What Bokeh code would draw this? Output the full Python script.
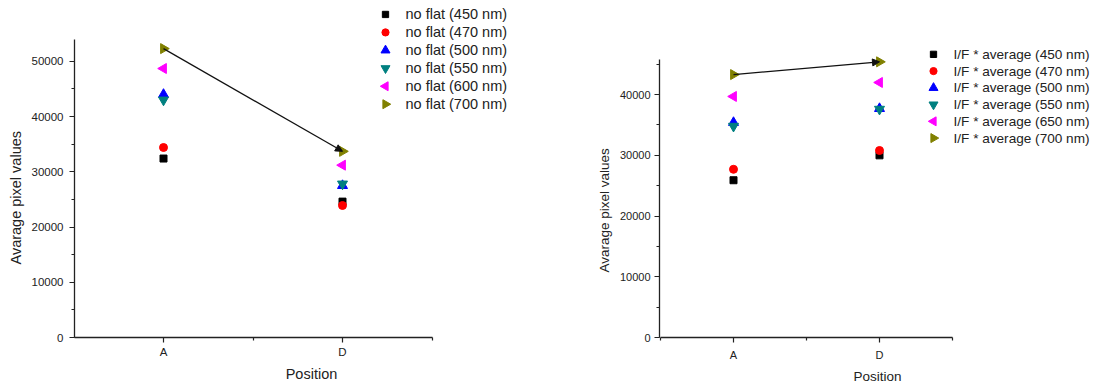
import math
from bokeh.plotting import figure
from bokeh.layouts import row
from bokeh.models import Range1d, FixedTicker, Arrow, NormalHead, ColumnDataSource, Title
from bokeh.core.properties import value
from bokeh.embed import file_html
from bokeh.resources import INLINE

# ---------------- data ----------------
positions = ["A", "D"]
pos_x = [1, 2]

# left chart: no flat
nf_labels = ["no flat (450 nm)", "no flat (470 nm)", "no flat (500 nm)",
             "no flat (550 nm)", "no flat (600 nm)", "no flat (700 nm)"]
nf_450 = [32400, 24600]
nf_470 = [34400, 23900]
nf_500 = [44000, 27500]
nf_550 = [43000, 27800]
nf_600 = [48700, 31200]
nf_700 = [52300, 33700]

# right chart: I/F * average
if_labels = ["I/F * average (450 nm)", "I/F * average (470 nm)", "I/F * average (500 nm)",
             "I/F * average (550 nm)", "I/F * average (650 nm)", "I/F * average (700 nm)"]
if_450 = [25900, 30000]
if_470 = [27700, 30800]
if_500 = [35400, 37700]
if_550 = [34800, 37600]
if_650 = [39700, 42000]
if_700 = [43300, 45400]

y_ticks_left = [0, 10000, 20000, 30000, 40000, 50000]
y_ticks_right = [0, 10000, 20000, 30000, 40000]

FONT = "Liberation Sans"
COLORS = ["#000000", "#FF0000", "#0000FF", "#008080", "#FF00FF", "#808000"]
MARKERS = ["square", "circle", "triangle", "inverted_triangle", "triangle", "triangle"]
ANGLES = [0.0, 0.0, 0.0, 0.0, math.pi / 2, -math.pi / 2]
SIZES = [7, 8, 10, 10, 10, 10]


def make_fig(series, labels, ymax, yticks, g, f):
    fig_w, fig_h, bl, bb = g["fig_w"], g["fig_h"], g["bl"], g["bb"]
    frame_w, frame_h = fig_w - bl, fig_h - bb
    ppx, x0off, ppy = g["ppx"], g["x0off"], g["ppy"]
    x_start = pos_x[0] - x0off / ppx
    x_end = x_start + frame_w / ppx
    y_end = frame_h / ppy

    p = figure(width=fig_w, height=fig_h, output_backend="svg", toolbar_location=None,
               title=None, x_range=Range1d(x_start, x_end), y_range=Range1d(0, y_end),
               min_border_left=bl, min_border_right=0, min_border_top=0,
               min_border_bottom=bb)
    p.outline_line_color = None
    p.grid.visible = False
    p.background_fill_color = "white"
    p.border_fill_color = "white"

    p.xaxis.ticker = FixedTicker(ticks=pos_x, minor_ticks=[0.5, 1.5, 2.5])
    p.xaxis.major_label_overrides = {x: lab for x, lab in zip(pos_x, positions)}
    p.xaxis.bounds = (0.5, 2.5)
    step = yticks[1] - yticks[0]
    minors = [v * step / 2 for v in range(0, int(2 * ymax / step) + 1)]
    p.yaxis.ticker = FixedTicker(ticks=yticks, minor_ticks=minors)
    p.yaxis.bounds = (0, ymax)
    for ax in (p.xaxis, p.yaxis):
        ax.axis_line_color = "#222222"
        ax.axis_line_width = 1.3
        ax.major_tick_line_color = "#222222"
        ax.minor_tick_line_color = "#222222"
        ax.major_tick_line_width = 1.2
        ax.minor_tick_line_width = 1.2
        ax.major_tick_out = 5
        ax.major_tick_in = 0
        ax.minor_tick_out = 3
        ax.minor_tick_in = 0
        ax.major_label_text_font = FONT
        ax.major_label_text_font_size = f["tick"]
        ax.major_label_text_color = "#222222"
        ax.axis_label_text_font = FONT
        ax.axis_label_text_font_size = f["title"]
        ax.axis_label_text_font_style = "normal"
        ax.axis_label_text_color = "#222222"
    p.xaxis.major_label_standoff = f["xtick_stand"]
    p.yaxis.major_label_standoff = f["ytick_stand"]
    p.xaxis.axis_label = "Position"
    p.xaxis.axis_label_standoff = f["xlab_stand"]

    # y-axis title as a side title so that it can be shifted along the axis
    p.add_layout(Title(text="Avarage pixel values", align="left", offset=f["ylab_offset"],
                       standoff=f["ylab_stand"], text_font=FONT,
                       text_font_size=f["title"], text_font_style="normal",
                       text_color="#222222"), "left")

    for vals, col, mk, ang, sz in zip(series, COLORS, MARKERS, ANGLES, SIZES):
        src = ColumnDataSource(dict(x=pos_x, y=vals))
        p.scatter("x", "y", source=src, marker=mk, angle=ang, size=sz,
                  fill_color=col, line_color=col)

    last = series[-1]
    p.add_layout(Arrow(x_start=pos_x[0], y_start=last[0], x_end=pos_x[1], y_end=last[1],
                       line_color="#111111", line_width=1.2,
                       end=NormalHead(size=7, fill_color="#111111", line_color="#111111")))

    # legend (drawn manually so that left / right triangles keep their direction)
    n = len(labels)
    ly = [(frame_h - (g["leg_top"] + g["leg_step"] * i)) / ppy for i in range(n)]
    lmx = [x_start + g["leg_mark"] / ppx] * n
    ltx = [x_start + g["leg_text"] / ppx] * n
    lsrc = ColumnDataSource(dict(x=lmx, tx=ltx, y=ly, marker=MARKERS, angle=ANGLES,
                                 size=[s * 0.9 for s in SIZES], color=COLORS,
                                 text=labels))
    p.scatter("x", "y", source=lsrc, marker="marker", angle="angle", size="size",
              fill_color="color", line_color="color")
    p.text("tx", "y", text="text", source=lsrc, text_font=value(FONT),
           text_font_size=value(f["legend"]), text_baseline="middle",
           text_align="left", text_color="#222222")
    return p


# geometry (pixels): each frame spans from its y axis to the figure's right edge
p1 = make_fig([nf_450, nf_470, nf_500, nf_550, nf_600, nf_700], nf_labels, 54000,
              y_ticks_left,
              dict(fig_w=548, fig_h=386, bl=74, bb=48, ppx=179, x0off=89,
                   ppy=277 / 50000, leg_mark=311, leg_text=331, leg_top=14, leg_step=18),
              dict(tick="11.5px", title="14.5px", legend="14.5px", xtick_stand=3,
                   ytick_stand=6, xlab_stand=5, ylab_stand=10, ylab_offset=73))
p2 = make_fig([if_450, if_470, if_500, if_550, if_650, if_700], if_labels, 45800,
              y_ticks_right,
              dict(fig_w=547, fig_h=386, bl=111, bb=48, ppx=146, x0off=74,
                   ppy=60.9 / 10000, leg_mark=274, leg_text=294, leg_top=54,
                   leg_step=16.8),
              dict(tick="11px", title="13.5px", legend="13.6px", xtick_stand=6,
                   ytick_stand=4, xlab_stand=5, ylab_stand=10, ylab_offset=65))

layout = row(p1, p2)
open("out.html", "w").write(file_html(layout, INLINE))
